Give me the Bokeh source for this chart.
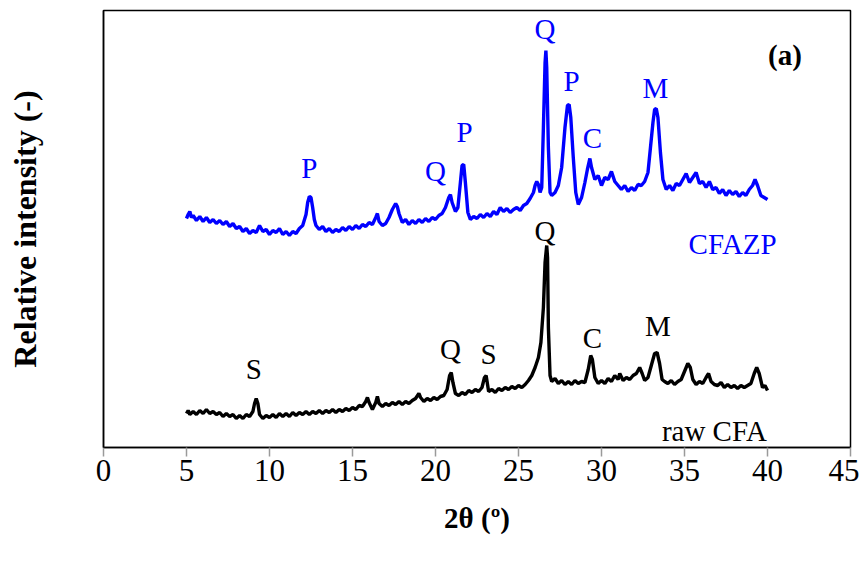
from bokeh.plotting import figure
from bokeh.models import Range1d, FixedTicker, ColumnDataSource
from bokeh.core.properties import value
from bokeh.embed import file_html
from bokeh.resources import INLINE

# ---------------- data ----------------
cfazp_theta = [5.0, 5.1, 5.2, 5.3, 5.4, 5.6, 5.8, 6.0, 6.2, 6.4, 6.6, 6.8, 7.0, 7.2, 7.4, 7.6, 7.8, 8.0,
               8.2, 8.4, 8.6, 8.8, 9.0, 9.2, 9.4, 9.6, 9.8, 10.0, 10.2, 10.4, 10.6, 10.8, 11.0, 11.2,
               11.4, 11.6, 11.8, 12.0, 12.2, 12.3, 12.4, 12.5, 12.6, 12.7, 12.8, 13.0, 13.2, 13.4,
               13.6, 13.8, 14.0, 14.2, 14.4, 14.6, 14.8, 15.0, 15.2, 15.4, 15.6, 15.8, 16.0, 16.2,
               16.4, 16.5, 16.6, 16.8, 17.0, 17.2, 17.4, 17.6, 17.7, 17.8, 18.0, 18.2, 18.4, 18.6,
               18.8, 19.0, 19.2, 19.4, 19.6, 19.8, 20.0, 20.2, 20.4, 20.6, 20.8, 20.9, 21.0, 21.2,
               21.35, 21.5, 21.6, 21.7, 21.8, 21.95, 22.1, 22.3, 22.5, 22.7, 22.9, 23.1, 23.3, 23.5,
               23.7, 23.9, 24.1, 24.3, 24.5, 24.7, 24.9, 25.1, 25.3, 25.5, 25.7, 25.9, 26.0, 26.1,
               26.2, 26.3, 26.4, 26.5, 26.6, 26.65, 26.7, 26.8, 26.9, 27.0, 27.2, 27.4, 27.6, 27.8,
               27.95, 28.05, 28.15, 28.3, 28.45, 28.6, 28.8, 29.0, 29.15, 29.3, 29.4, 29.6, 29.8,
               30.0, 30.2, 30.4, 30.6, 30.8, 31.0, 31.2, 31.4, 31.6, 31.8, 32.0, 32.2, 32.4, 32.6,
               32.8, 32.95, 33.1, 33.2, 33.3, 33.4, 33.55, 33.7, 33.9, 34.1, 34.3, 34.5, 34.7, 34.9,
               35.1, 35.3, 35.5, 35.7, 35.9, 36.1, 36.3, 36.5, 36.7, 36.9, 37.1, 37.3, 37.5, 37.7,
               37.9, 38.1, 38.3, 38.5, 38.7, 38.9, 39.1, 39.25, 39.4, 39.6, 39.8, 40.0]
cfazp_int = [229, 233, 236, 230, 232, 227, 231, 226, 230, 225, 228, 224, 227, 223, 226, 221, 224, 219,
             221, 216, 219, 214, 217, 215, 222, 216, 218, 213, 217, 215, 219, 213, 216, 212,
             216, 214, 219, 222, 233, 245, 251, 250, 240, 228, 222, 218, 221, 216,
             219, 215, 218, 216, 220, 217, 221, 218, 222, 219, 223, 221, 225, 223,
             230, 234, 226, 222, 224, 230, 238, 244, 241, 234, 225, 228, 223, 227,
             224, 228, 225, 229, 226, 230, 228, 232, 234, 240, 250, 253, 245, 236,
             240, 265, 282, 283, 265, 235, 228, 231, 229, 233, 230, 234, 231, 236,
             233, 240, 236, 239, 235, 238, 240, 237, 242, 244, 249, 255, 262, 266,
             263, 255, 260, 320, 385, 397, 380, 300, 255, 252, 255, 262, 280, 320,
             342, 343, 330, 290, 255, 243, 250, 265, 278, 289, 280, 268, 272,
             262, 270, 268, 276, 266, 262, 258, 262, 256, 260, 257, 263, 262, 266,
             275, 300, 325, 338, 339, 330, 295, 268, 258, 262, 257, 264, 262, 268,
             274, 265, 270, 275, 264, 266, 260, 266, 258, 260, 254, 258, 252, 257,
             253, 256, 251, 255, 252, 258, 262, 268, 262, 252, 250, 248]

raw_theta = [5.0, 5.1, 5.2, 5.4, 5.6, 5.8, 6.0, 6.2, 6.4, 6.6, 6.8, 7.0, 7.2, 7.4, 7.6, 7.8, 8.0, 8.2,
             8.4, 8.6, 8.8, 9.0, 9.1, 9.2, 9.3, 9.4, 9.6, 9.8, 10.0, 10.2, 10.4, 10.6, 10.8, 11.0,
             11.2, 11.4, 11.6, 11.8, 12.0, 12.2, 12.4, 12.6, 12.8, 13.0, 13.2, 13.4, 13.6, 13.8,
             14.0, 14.2, 14.4, 14.6, 14.8, 15.0, 15.2, 15.4, 15.6, 15.8, 15.9, 16.0, 16.2, 16.4,
             16.5, 16.6, 16.8, 17.0, 17.2, 17.4, 17.6, 17.8, 18.0, 18.2, 18.4, 18.6, 18.8, 19.0,
             19.1, 19.3, 19.5, 19.7, 19.9, 20.1, 20.3, 20.5, 20.7, 20.85, 20.95, 21.05, 21.2, 21.4,
             21.6, 21.8, 22.0, 22.2, 22.4, 22.6, 22.8, 22.95, 23.05, 23.2, 23.4, 23.6, 23.8, 24.0,
             24.2, 24.4, 24.6, 24.8, 25.0, 25.2, 25.4, 25.6, 25.8, 26.0, 26.2, 26.35, 26.5, 26.6,
             26.7, 26.75, 26.8, 26.9, 27.0, 27.2, 27.4, 27.6, 27.8, 28.0, 28.2, 28.4, 28.6, 28.8,
             29.0, 29.2, 29.35, 29.45, 29.6, 29.8, 30.0, 30.2, 30.4, 30.6, 30.8, 31.0, 31.1, 31.3,
             31.5, 31.7, 31.9, 32.1, 32.3, 32.45, 32.6, 32.8, 33.0, 33.2, 33.35, 33.5, 33.65, 33.8,
             34.0, 34.2, 34.4, 34.6, 34.8, 35.0, 35.2, 35.35, 35.5, 35.7, 35.9, 36.1, 36.3, 36.45,
             36.6, 36.8, 37.0, 37.2, 37.4, 37.6, 37.8, 38.0, 38.2, 38.4, 38.6, 38.8, 39.0, 39.2,
             39.35, 39.5, 39.7, 39.85, 40.0]
raw_int = [34, 37, 33, 36, 33, 37, 34, 38, 34, 36, 33, 35, 31, 34, 31, 33, 29, 32,
           29, 33, 31, 36, 44, 49, 44, 33, 29, 32, 30, 33, 30, 34, 31, 34,
           31, 35, 32, 35, 33, 36, 33, 36, 34, 37, 34, 37, 35, 38,
           35, 38, 36, 39, 37, 40, 38, 42, 41, 46, 50, 45, 38, 45,
           51, 44, 41, 44, 42, 45, 43, 46, 43, 46, 44, 47, 49, 54,
           50, 46, 49, 47, 50, 48, 51, 52, 58, 72, 75, 65, 54, 52,
           55, 53, 57, 55, 58, 56, 60, 70, 72, 56, 58, 55, 59, 57,
           60, 58, 61, 59, 62, 60, 63, 67, 72, 80, 90, 105, 140, 185,
           202, 190, 120, 72, 66, 69, 64, 67, 63, 66, 63, 67, 64, 66,
           65, 78, 92, 88, 70, 64, 67, 64, 69, 66, 72, 68, 74, 67,
           70, 68, 72, 74, 80, 74, 67, 70, 82, 94, 95, 84, 68, 66,
           64, 67, 63, 66, 68, 76, 84, 80, 68, 63, 66, 64, 70, 74,
           66, 63, 62, 65, 60, 63, 60, 62, 59, 62, 60, 62, 64, 74,
           80, 74, 60, 62, 57]

x_ticks = [0, 5, 10, 15, 20, 25, 30, 35, 40, 45]

cfazp_lbl_text = ["P", "Q", "P", "Q", "P", "C", "M", "CFAZP"]
cfazp_lbl_x = [12.4, 20.0, 21.75, 26.6, 28.2, 29.45, 33.25, 37.9]
cfazp_lbl_y = [280, 277, 316, 419, 367, 310, 360, 204]

raw_lbl_text = ["S", "Q", "S", "Q", "C", "M", "raw CFA"]
raw_lbl_x = [9.05, 20.9, 23.2, 26.6, 29.45, 33.4, 36.8]
raw_lbl_y = [79, 99, 94, 217, 110, 122, 17]

panel_text = ["(a)"]
panel_x = [41.05]
panel_y = [393]

# ---------------- figure ----------------
SERIF = "Liberation Serif"
BLUE = "#0000FF"

p = figure(width=859, height=559, output_backend="svg", toolbar_location=None,
           x_range=Range1d(0, 45), y_range=Range1d(0, 437),
           min_border_left=103, min_border_right=9, min_border_top=10, min_border_bottom=112)
p.background_fill_color = "white"
p.border_fill_color = "white"
p.outline_line_color = "black"
p.outline_line_width = 1.5
p.grid.visible = False

xa = p.xaxis[0]
xa.ticker = FixedTicker(ticks=x_ticks)
xa.minor_tick_line_color = None
xa.major_tick_in = 0
xa.major_tick_out = 9
xa.major_tick_line_color = "#9a9a9a"
xa.major_tick_line_width = 1.5
xa.axis_line_color = "black"
xa.axis_line_width = 1.5
xa.major_label_text_font = SERIF
xa.major_label_text_font_size = "31px"
xa.major_label_text_color = "black"
xa.major_label_standoff = 3
xa.axis_label = "2θ (º)"
xa.axis_label_text_font = SERIF
xa.axis_label_text_font_style = "bold"
xa.axis_label_text_font_size = "29px"
xa.axis_label_text_color = "black"
xa.axis_label_standoff = 18

ya = p.yaxis[0]
ya.ticker = FixedTicker(ticks=[])
ya.minor_tick_line_color = None
ya.major_tick_line_color = None
ya.major_tick_out = 0
ya.major_tick_in = 0
ya.axis_line_color = "black"
ya.axis_line_width = 1.5
ya.axis_label = "Relative intensity (-)"
ya.axis_label_text_font = SERIF
ya.axis_label_text_font_style = "bold"
ya.axis_label_text_font_size = "32px"
ya.axis_label_text_color = "black"
ya.axis_label_standoff = 61

p.line(raw_theta, raw_int, line_color="black", line_width=3.4)
p.line(cfazp_theta, cfazp_int, line_color=BLUE, line_width=3.4)

src_b = ColumnDataSource(dict(x=cfazp_lbl_x, y=cfazp_lbl_y, t=cfazp_lbl_text))
p.text(x="x", y="y", text="t", source=src_b, text_font=value(SERIF), text_font_size="29px",
       text_color=BLUE, text_align="center", text_baseline="middle")

src_k = ColumnDataSource(dict(x=raw_lbl_x, y=raw_lbl_y, t=raw_lbl_text))
p.text(x="x", y="y", text="t", source=src_k, text_font=value(SERIF), text_font_size="29px",
       text_color="black", text_align="center", text_baseline="middle")

src_a = ColumnDataSource(dict(x=panel_x, y=panel_y, t=panel_text))
p.text(x="x", y="y", text="t", source=src_a, text_font=value(SERIF), text_font_size="29px",
       text_font_style="bold", text_color="black", text_align="center", text_baseline="middle")

open("out.html", "w").write(file_html(p, INLINE))
